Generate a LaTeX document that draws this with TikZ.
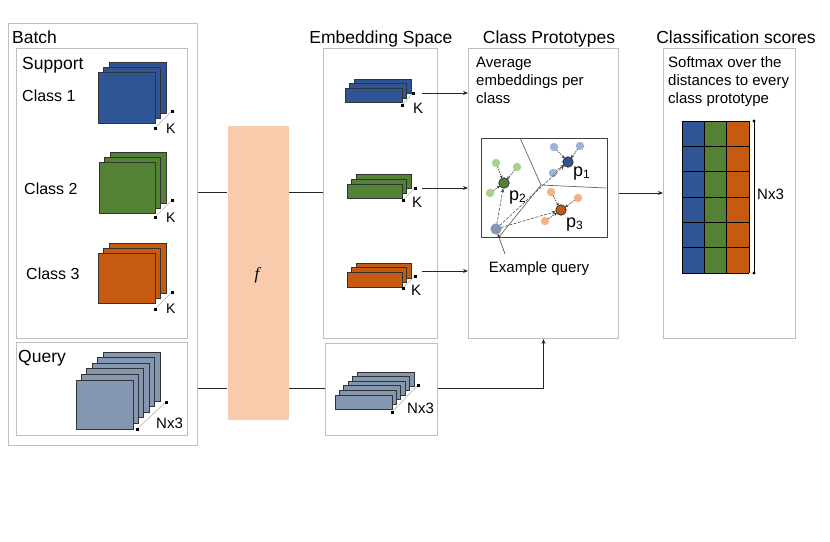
\documentclass[tikz,border=0pt]{standalone}
\usepackage{fontspec}
\setmainfont{Liberation Sans}
\newfontfamily\fser{Liberation Serif}
\usetikzlibrary{arrows.meta,calc}
\definecolor{cblue}{HTML}{2F5597}
\definecolor{cgreen}{HTML}{548235}
\definecolor{corange}{HTML}{C55A11}
\definecolor{cquery}{HTML}{8497B0}
\definecolor{cpeach}{HTML}{F8CBAD}
\definecolor{boxgray}{HTML}{BFBFBF}
\definecolor{stackedge}{HTML}{333333}
\definecolor{lblue}{HTML}{9DB3DA}
\definecolor{lgreen}{HTML}{A9D18E}
\definecolor{lorange}{HTML}{F4B183}
\newcommand\layerstack[8]{%
  \foreach \i in {#5}{\filldraw[fill=#8,draw=stackedge,line width=0.9pt]
    ({#1+\i*#6},{#2-\i*#7}) rectangle ++(#3,#4);}}
\newcommand\dimln[4]{%
  \draw[gray!60,line width=0.6pt] (#1,#2) -- (#3,#4);
  \fill (#1,#2) +(-1.5,-1.5) rectangle +(1.5,1.5);
  \fill (#3,#4) +(-1.5,-1.5) rectangle +(1.5,1.5);}
\begin{document}
\begin{tikzpicture}[x=1pt,y=-1pt,
  box/.style={draw=boxgray,line width=1pt,inner sep=0,anchor=north west},
  tx/.style={inner sep=0,anchor=base west,font=\fontsize{16}{19}\selectfont},
  ttl/.style={inner sep=0,anchor=base,font=\fontsize{17.5}{21}\selectfont},
  sm/.style={inner sep=0,anchor=base west,font=\fontsize{14}{17}\selectfont},
  para/.style={inner sep=0,anchor=north west,align=left,font=\fontsize{15}{18}\selectfont},
  conn/.style={line width=0.9pt,draw=black!85},
  arr/.style={line width=0.9pt,draw=black!85,-{Stealth[length=5pt,width=4pt]}},
  proto/.style={fill=#1,draw=black!80,line width=0.8pt},
  tiny/.style={line width=0.6pt,draw=black!80,dash pattern=on 1.5pt off 1pt,-{Stealth[length=3pt,width=3pt]}},
  qline/.style={line width=0.6pt,draw=black!70,dash pattern=on 3pt off 1.5pt,-{Stealth[length=4pt,width=3.5pt]}},
  voro/.style={line width=0.7pt,draw=black!60},
  plab/.style={inner sep=0,anchor=base west,font=\fontsize{18}{21}\selectfont}]
\useasboundingbox (0,0) rectangle (830,541);

% boxes
\node[box,minimum width=189pt,minimum height=422pt] (batch) at (8,23) {};
\node[box,minimum width=171pt,minimum height=290pt] (support) at (16,48) {};
\node[box,minimum width=171pt,minimum height=93pt] (query) at (16,342) {};
\node[box,draw=none,fill=cpeach,minimum width=61pt,minimum height=294pt] (fbox) at (227,125) {};
\node[box,minimum width=114pt,minimum height=290pt] (emb) at (323,48) {};
\node[box,minimum width=112pt,minimum height=92pt] (embq) at (325,343) {};
\node[box,minimum width=150pt,minimum height=290pt] (protobox) at (468,48) {};
\node[box,draw=black!75,line width=1.3pt,minimum width=126pt,minimum height=99pt] (inner) at (481,138) {};
\node[box,minimum width=132pt,minimum height=290pt] (cls) at (663,48) {};

% titles and labels
\node[tx,font=\fontsize{17.5}{21}\selectfont] (tbatch) at (12,43) {Batch};
\node[tx,font=\fontsize{17.5}{21}\selectfont] (tsup) at (22,69) {Support};
\node[tx] (tc1) at (22,101) {Class 1};
\node[tx] (tc2) at (24,194) {Class 2};
\node[tx] (tc3) at (26,279) {Class 3};
\node[tx,font=\fontsize{17.5}{21}\selectfont] (tq) at (18,362) {Query};
\node[ttl] (temb) at (381,43) {Embedding Space};
\node[ttl] (tproto) at (549,43) {Class Prototypes};
\node[ttl] (tcls) at (736,43) {Classification scores};
\node[inner sep=0,anchor=base] (tf) at (257,279) {\fontsize{17}{20}\selectfont\fser\itshape f};
\node[para] (tavg) at (476,57) {Average\\embeddings per\\class};
\node[para] (tsoft) at (668,56) {Softmax over the\\distances to every\\class prototype};

% support stacks
\layerstack{98}{72}{57}{51}{2,1,0}{5.5}{5}{cblue}
\layerstack{99}{162}{56}{51}{2,1,0}{5.5}{5}{cgreen}
\layerstack{98}{253}{57}{50}{2,1,0}{5.5}{5}{corange}
\layerstack{76}{380}{57}{49}{5,4,3,2,1,0}{5.4}{5.6}{cquery}
\dimln{155}{128}{172}{111}
\dimln{155}{217}{172}{200}
\dimln{155}{309}{172}{292}
\dimln{137}{429}{166}{402}
\node[sm] (k1) at (166,133) {K};
\node[sm] (k2) at (166,222) {K};
\node[sm] (k3) at (166,313) {K};
\node[sm,font=\fontsize{15}{18}\selectfont] (nq) at (156,428) {Nx3};

% embedding stacks
\layerstack{345}{88}{57}{14.5}{2,1,0}{4.5}{4.5}{cblue}
\layerstack{347}{184}{55}{14}{2,1,0}{4.7}{5}{cgreen}
\layerstack{347}{272}{55}{15}{2,1,0}{4.5}{4.5}{corange}
\layerstack{335}{395}{57}{14}{5,4,3,2,1,0}{4.4}{4.6}{cquery}
\dimln{402}{105}{413}{93}
\dimln{403}{200}{415}{188}
\dimln{403}{288}{415}{276}
\dimln{392}{412}{418}{385}
\node[sm,font=\fontsize{15}{18}\selectfont] (ke1) at (413,113) {K};
\node[sm,font=\fontsize{15}{18}\selectfont] (ke2) at (412,207) {K};
\node[sm,font=\fontsize{15}{18}\selectfont] (ke3) at (411,295) {K};
\node[sm,font=\fontsize{15}{18}\selectfont] (nqe) at (407,413) {Nx3};

% connectors
\coordinate (ya) at (0,192);
\coordinate (yq) at (0,388);
\coordinate (yb) at (0,193);
\draw[conn] (batch.east |- ya) -- (fbox.west |- ya);
\draw[conn] (fbox.east |- ya) -- (emb.west |- ya);
\draw[conn] (batch.east |- yq) -- (fbox.west |- yq);
\draw[conn] (fbox.east |- yq) -- (embq.west |- yq);
\draw[arr] (embq.east |- yq) -| (protobox.south);
\draw[arr] (protobox.east |- yb) -- (cls.west |- yb);
\coordinate (e1) at (422,93);
\coordinate (e2) at (422,188);
\coordinate (e3) at (422,271);
\draw[arr] (e1) -- (protobox.west |- e1);
\draw[arr] (e2) -- (protobox.west |- e2);
\draw[arr] (e3) -- (protobox.west |- e3);

% prototype scatter
\coordinate (vc) at (541,185);
\draw[voro] (520,138) -- (vc) -- (606,188);
\draw[voro] (vc) -- (499,237);
\coordinate (p1) at (568,162);
\coordinate (p2) at (504,183);
\coordinate (p3) at (561,210);
\coordinate (q) at (496,229);
\foreach \a/\b in {554/147,580/146,553/173}{\fill[lblue] (\a,\b) circle (4.2); \draw[tiny,shorten <=4pt,shorten >=5pt] (\a,\b) -- (p1);}
\foreach \a/\b in {496/163,517/167,490/193}{\fill[lgreen] (\a,\b) circle (4.2); \draw[tiny,shorten <=4pt,shorten >=5pt] (\a,\b) -- (p2);}
\foreach \a/\b in {551/192,578/198,545/221}{\fill[lorange] (\a,\b) circle (4.2); \draw[tiny,shorten <=4pt,shorten >=5pt] (\a,\b) -- (p3);}
\draw[qline,shorten <=5pt,shorten >=5.5pt] (q) -- (p1);
\draw[qline,shorten <=5pt,shorten >=5.5pt] (q) -- (p2);
\draw[qline,shorten <=5pt,shorten >=5.5pt] (q) -- (p3);
\filldraw[proto=cblue] (p1) circle (5.2);
\filldraw[proto=cgreen] (p2) circle (5.2);
\filldraw[proto=corange] (p3) circle (5.2);
\fill[cquery] (q) circle (5.6);
\node[plab] (lp1) at (573,176) {p\textsubscript{\fontsize{12}{13}\selectfont 1}};
\node[plab] (lp2) at (509,200) {p\textsubscript{\fontsize{12}{13}\selectfont 2}};
\node[plab] (lp3) at (566,227) {p\textsubscript{\fontsize{12}{13}\selectfont 3}};
\node[inner sep=0,anchor=base,font=\fontsize{15}{18}\selectfont] (exq) at (539,272) {Example query};
\coordinate (exp) at (505,254);
\draw[line width=0.6pt,draw=black!75,-{Stealth[length=4pt,width=3.5pt]},shorten >=5pt] (exp) -- (q);

% score grid
\foreach \c/\col in {0/cblue,1/cgreen,2/corange}{\fill[\col] ({682+\c*22.43},121) rectangle ++(22.43,152);}
\foreach \r in {0,...,6}{\draw[line width=0.9pt] (682,{121+\r*25.33}) -- (749.3,{121+\r*25.33});}
\foreach \c in {0,...,3}{\draw[line width=0.9pt] ({682+\c*22.43},121) -- ({682+\c*22.43},273);}
\draw[line width=0.8pt] (754,121) -- (754,273);
\fill (754,121) circle (1.6);
\fill (754,273) circle (1.6);
\node[inner sep=0,anchor=base west,font=\fontsize{15}{18}\selectfont] (nxs) at (757,199) {Nx3};
\end{tikzpicture}
\end{document}
